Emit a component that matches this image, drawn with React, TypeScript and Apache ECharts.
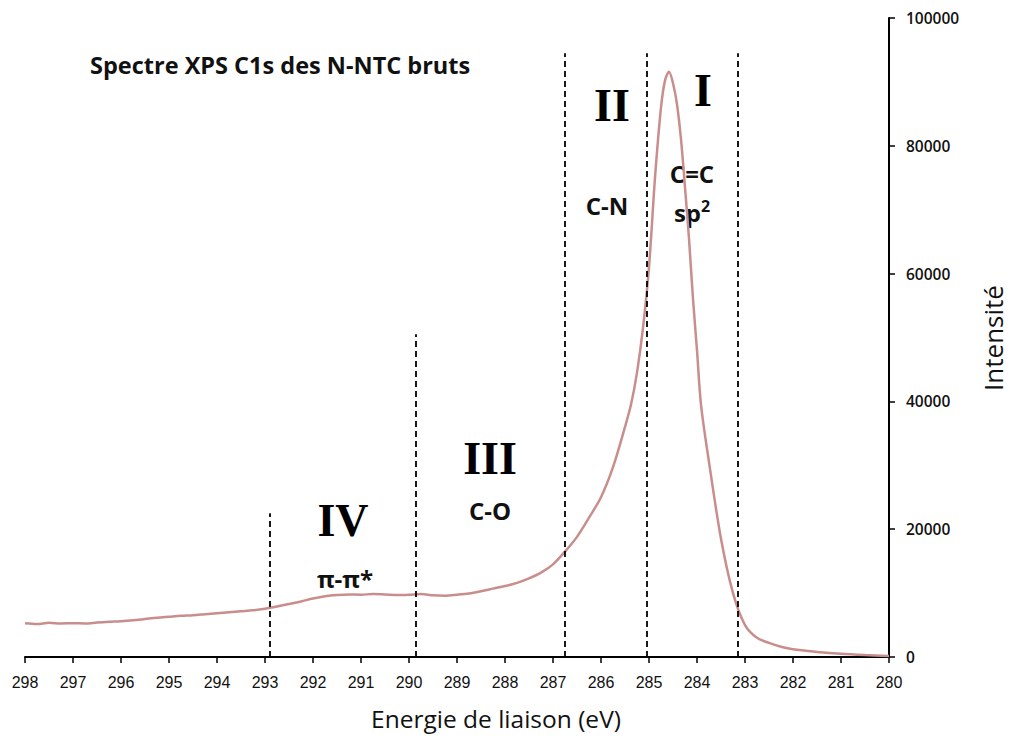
import React, { useEffect, useRef } from "react";
import * as echarts from "echarts";

const energy: number[] = [
  298, 297.75, 297.5, 297.25, 297, 296.75, 296.5, 296.25, 296, 295.75, 295.5, 295.25, 295,
  294.75, 294.5, 294.25, 294, 293.75, 293.5, 293.25, 293, 292.75, 292.5, 292.25, 292,
  291.75, 291.5, 291.25, 291, 290.75, 290.5, 290.25, 290, 289.75, 289.5, 289.25, 289,
  288.75, 288.5, 288.25, 288, 287.75, 287.5, 287.25, 287, 286.75, 286.5, 286.25, 286,
  285.75, 285.5, 285.375, 285.25, 285.125, 285, 284.875, 284.75, 284.667, 284.583, 284.5,
  284.417, 284.333, 284.25, 284.167, 284.083, 284, 283.917, 283.75, 283.5, 283.25, 283,
  282.75, 282.5, 282.25, 282, 281.5, 281, 280.5, 280,
];
const intensity: number[] = [
  5270, 5150, 5350, 5250, 5300, 5250, 5380, 5500, 5600, 5750, 5950, 6150, 6300,
  6450, 6550, 6700, 6850, 7000, 7150, 7300, 7550, 7900, 8300, 8700, 9150,
  9500, 9700, 9800, 9750, 9850, 9800, 9700, 9750, 9850, 9650, 9600, 9750,
  9950, 10300, 10700, 11100, 11600, 12300, 13200, 14500, 16500, 18800, 21800, 25000,
  29700, 36000, 39500, 44500, 51500, 61000, 75000, 86000, 90200, 91600, 89800,
  86500, 81000, 73500, 65500, 56000, 48000, 39500, 30500, 18500, 10000, 5000,
  3000, 2200, 1600, 1200, 800, 500, 300, 150,
];

// vertical dashed separators: [energy, top intensity]
const separatorEnergy: number[] = [292.9, 289.85, 286.75, 285.05, 283.15];
const separatorTop: number[] = [22500, 50500, 94500, 94500, 94500];

const xTicks = { min: 280, max: 298, interval: 1 };
const yTicks = { min: 0, max: 100000, interval: 20000 };

export default function App() {
  const ref = useRef<HTMLDivElement>(null);
  useEffect(() => {
    if (!ref.current) return;
    const chart = echarts.init(ref.current, null, { renderer: "svg" });
    const data = energy.map((e, i) => [e, intensity[i]]);
    const sepLines = separatorEnergy.map((e, i) => [
      { coord: [e, 0] },
      { coord: [e, separatorTop[i]] },
    ]);
    const roman = { fontFamily: "Liberation Serif", fontWeight: "bold", fontSize: 46, fill: "#000" };
    const lab = { fontFamily: "Open Sans", fontWeight: "bold", fontSize: 24, fill: "#111" };
    chart.setOption({
      animation: false,
      backgroundColor: "#fff",
      grid: { left: 25, right: 121, top: 18, bottom: 81, containLabel: false },
      xAxis: {
        type: "value",
        min: xTicks.min,
        max: xTicks.max,
        interval: xTicks.interval,
        inverse: true,
        splitLine: { show: false },
        axisLine: { lineStyle: { color: "#000", width: 2 } },
        axisTick: { show: true, length: 6, lineStyle: { color: "#000", width: 1.5 } },
        axisLabel: {
          color: "#111",
          fontFamily: "Liberation Sans Narrow, Liberation Sans",
          fontSize: 16,
          margin: 17,
        },
      },
      yAxis: {
        type: "value",
        position: "right",
        min: yTicks.min,
        max: yTicks.max,
        interval: yTicks.interval,
        splitLine: { show: false },
        axisLine: { show: true, lineStyle: { color: "#000", width: 2 } },
        axisTick: { show: true, length: 6, lineStyle: { color: "#000", width: 1.5 } },
        axisLabel: {
          color: "#111",
          fontFamily: "Open Sans",
          fontWeight: 600,
          fontSize: 15.5,
          margin: 17,
          formatter: (v: number) => String(v),
        },
      },
      series: [
        {
          type: "line",
          data,
          showSymbol: false,
          smooth: 0.3,
          lineStyle: { color: "#c98e8c", width: 2.5 },
          markLine: {
            silent: true,
            symbol: "none",
            label: { show: false },
            lineStyle: { color: "#000", type: [6, 4], width: 1.8 },
            data: sepLines,
          },
        },
      ],
      graphic: [
        { type: "text", x: 90, y: 65, style: { text: "Spectre XPS C1s des N-NTC bruts", fontFamily: "Open Sans", fontWeight: "bold", fontSize: 23.5, fill: "#111", verticalAlign: "middle" } },
        { type: "text", x: 703, y: 90, style: { text: "I", ...roman, align: "center", verticalAlign: "middle" } },
        { type: "text", x: 612, y: 105, style: { text: "II", ...roman, align: "center", verticalAlign: "middle" } },
        { type: "text", x: 490, y: 458, style: { text: "III", ...roman, align: "center", verticalAlign: "middle" } },
        { type: "text", x: 343, y: 520, style: { text: "IV", ...roman, align: "center", verticalAlign: "middle" } },
        { type: "text", x: 692, y: 173, style: { text: "C=C", ...lab, align: "center", verticalAlign: "middle" } },
        {
          type: "text", x: 692, y: 212,
          style: {
            text: "sp{s|2}", ...lab, align: "center", verticalAlign: "middle",
            rich: { s: { fontFamily: "Open Sans", fontWeight: "bold", fontSize: 16, fill: "#111", verticalAlign: "top", padding: [0, 0, 12, 0] } },
          },
        },
        { type: "text", x: 607, y: 205, style: { text: "C-N", ...lab, align: "center", verticalAlign: "middle" } },
        { type: "text", x: 490, y: 510, style: { text: "C-O", ...lab, align: "center", verticalAlign: "middle" } },
        { type: "text", x: 345, y: 578, style: { text: "π-π*", ...lab, align: "center", verticalAlign: "middle" } },
        { type: "text", x: 496, y: 718, style: { text: "Energie de liaison (eV)", fontFamily: "Open Sans", fontSize: 24.5, fill: "#111", align: "center", verticalAlign: "middle" } },
        { type: "text", x: 993, y: 338, rotation: Math.PI / 2, style: { text: "Intensité", fontFamily: "Open Sans", fontSize: 26, fill: "#111", align: "center", verticalAlign: "middle" } },
      ],
    });
    return () => chart.dispose();
  }, []);
  return (
    <div
      ref={ref}
      style={{ position: "fixed", left: 0, top: 0, width: 1010, height: 738, background: "#fff" }}
    />
  );
}
